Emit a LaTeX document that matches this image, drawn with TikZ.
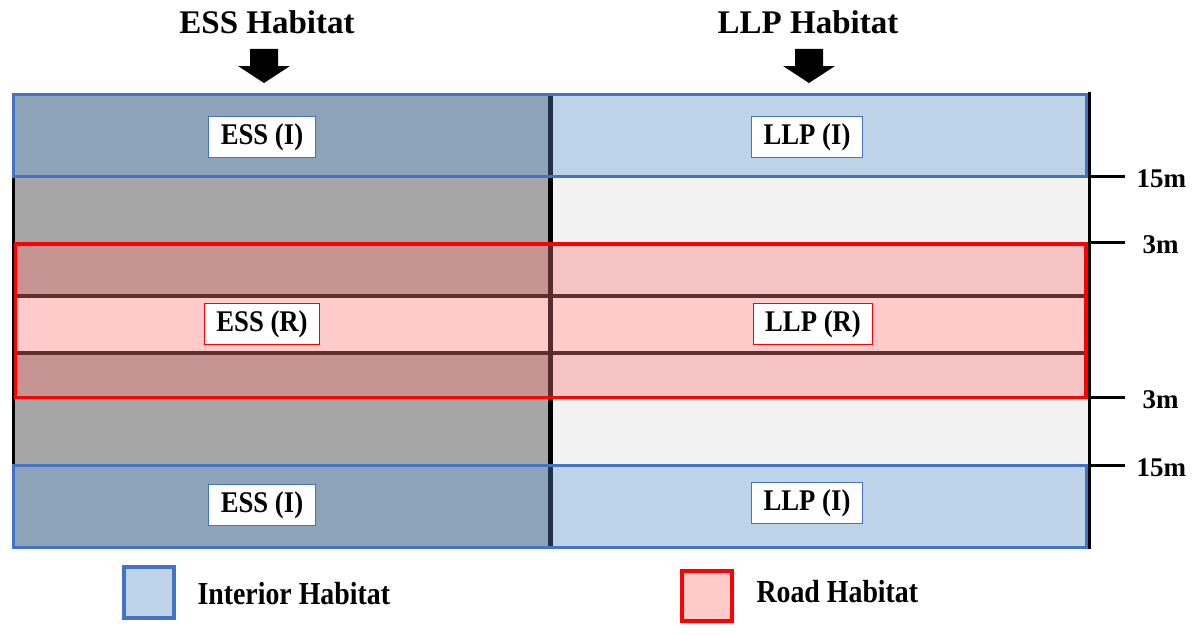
\documentclass[tikz,border=0pt]{standalone}
\usepackage{fontspec}
\setmainfont{Liberation Serif}
\newfontfamily\labfont[FakeStretch=0.89]{Liberation Serif}
\newfontfamily\legfont[FakeStretch=0.87]{Liberation Serif}
\definecolor{essI}{HTML}{8CA3B8}
\definecolor{llpI}{HTML}{BDD3E7}
\definecolor{essG}{HTML}{A6A6A6}
\definecolor{llpG}{HTML}{F2F2F2}
\definecolor{essR}{HTML}{C79494}
\definecolor{llpR}{HTML}{F5C3C3}
\definecolor{midR}{HTML}{FFCACA}
\definecolor{brn}{HTML}{603030}
\definecolor{navy}{HTML}{1F3247}
\definecolor{bluB}{HTML}{4472C4}
\definecolor{redB}{HTML}{FF0000}
\tikzset{
  lab/.style={fill=white, draw=#1, line width=1pt, inner xsep=12pt, minimum height=41pt,
    font=\labfont\fontsize{30}{30}\selectfont\bfseries},
  ttl/.style={font=\fontsize{33}{33}\selectfont\bfseries},
  dim/.style={font=\fontsize{27}{27}\selectfont\bfseries, anchor=west},
  leg/.style={font=\legfont\fontsize{32}{32}\selectfont\bfseries, anchor=west},
  tick/.style={line width=3pt, black},
  blk/.style={fill=black},
}
\begin{document}
\begin{tikzpicture}[x=1pt,y=-1pt]
\useasboundingbox (0,0) rectangle (1193,634);
% base bands
\fill[essG] (13,177) rectangle (550,465);
\fill[llpG] (550,177) rectangle (1088,465);
% interior bands
\fill[essI] (13,93) rectangle (550,177);
\fill[llpI] (550,93) rectangle (1088,177);
\fill[essI] (13,465) rectangle (550,548);
\fill[llpI] (550,465) rectangle (1088,548);
% road bands
\fill[essR] (15,243) rectangle (550,398);
\fill[llpR] (550,243) rectangle (1086,398);
\fill[midR] (15,296) rectangle (1086,353);
\draw[brn, line width=4pt] (15,296) -- (1086,296);
\draw[brn, line width=4pt] (15,353) -- (1086,353);
% vertical divider
\draw[navy, line width=5pt] (550,93) -- (550,177);
\draw[black, line width=5pt] (550,177) -- (550,243);
\draw[brn!90!black, line width=5pt] (550,243) -- (550,398);
\draw[black, line width=5pt] (550,398) -- (550,465);
\draw[navy, line width=5pt] (550,465) -- (550,548);
% outer black lines
\draw[black, line width=3pt] (13.5,177) -- (13.5,465);
\draw[black, line width=3pt] (1089,92) -- (1089,549);
% borders
\draw[bluB, line width=3pt] (13.5,94.5) rectangle (1086,176.5);
\draw[bluB, line width=3pt] (13.5,465.5) rectangle (1086,547);
\draw[redB, line width=3.5pt] (15.5,244) rectangle (1086,397.5);
% labels
\node[lab=bluB] (essIt) at (262,137) {ESS (I)};
\node[lab=bluB] (llpIt) at (807,137) {LLP (I)};
\node[lab=redB] (essRm) at (262,324) {ESS (R)};
\node[lab=redB] (llpRm) at (813,324) {LLP (R)};
\node[lab=bluB] (essIb) at (262,505) {ESS (I)};
\node[lab=bluB] (llpIb) at (807,503) {LLP (I)};
% ticks
\coordinate (t1a) at (1091,176); \coordinate (t1b) at (1125,176);
\coordinate (t2a) at (1091,242); \coordinate (t2b) at (1125,242);
\coordinate (t3a) at (1091,397); \coordinate (t3b) at (1125,397);
\coordinate (t4a) at (1091,465); \coordinate (t4b) at (1125,465);
\draw[tick] (t1a) -- (t1b);
\draw[tick] (t2a) -- (t2b);
\draw[tick] (t3a) -- (t3b);
\draw[tick] (t4a) -- (t4b);
\node[dim] (d1) at (1133,179) {15m};
\node[dim] (d2) at (1139,245) {3m};
\node[dim] (d3) at (1139,400) {3m};
\node[dim] (d4) at (1133,468) {15m};
% titles
\node[ttl] (essT) at (267,22) {ESS Habitat};
\node[ttl] (llpT) at (808,22) {LLP Habitat};
\fill[blk] (250,49) -- (278,49) -- (278,66) -- (290,66) -- (264,83) -- (238,66) -- (250,66) -- cycle;
\fill[blk] (795,49) -- (823,49) -- (823,66) -- (835,66) -- (809,83) -- (783,66) -- (795,66) -- cycle;
% legend
\draw[bluB, line width=4pt, fill=llpI] (124,567) rectangle (174,618);
\node[leg] (legI) at (194,594) {Interior Habitat};
\draw[redB, line width=4pt, fill=midR] (682,571) rectangle (732,621);
\node[leg] (legR) at (753,592) {Road Habitat};
\end{tikzpicture}
\end{document}
